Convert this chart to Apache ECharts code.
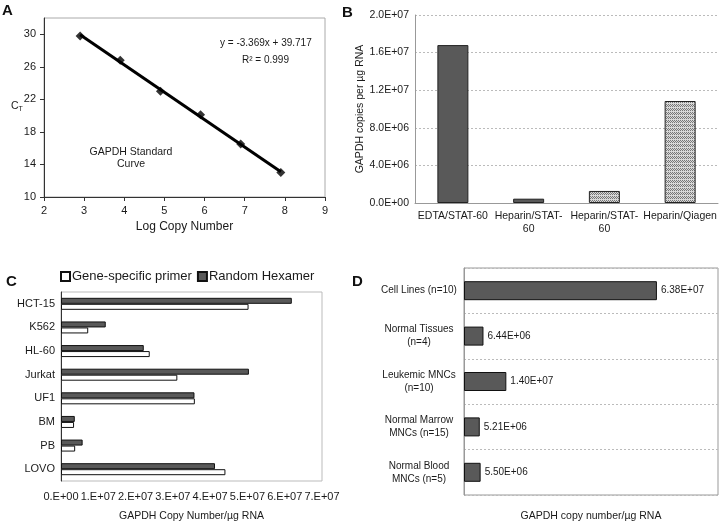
<!DOCTYPE html>
<html>
<head>
<meta charset="utf-8">
<script src="https://cdn.jsdelivr.net/npm/echarts@6/dist/echarts.min.js"></script>
<style>
  html, body { margin: 0; padding: 0; background: #fff; }
  #chart { width: 720px; height: 523px; }
</style>
</head>
<body>
<div id="chart"></div>
<script>
// panel A - standard curve
const logCopies = [2.9, 3.9, 4.9, 5.9, 6.9, 7.9]
const ctValues = [29.8, 26.8, 23.0, 20.1, 16.5, 13.0]
const trendX = [2.9, 7.9]
const trendY = [29.95, 13.1]

// panel B - collection / extraction method
const methodNames = ['EDTA/STAT-60', 'Heparin/STAT-\n60', 'Heparin/STAT-\n60', 'Heparin/Qiagen']
const methodCopies = [1.68e7, 4.6e5, 1.28e6, 1.085e7]

// panel C - primer comparison
const cellNames = ['HCT-15', 'K562', 'HL-60', 'Jurkat', 'UF1', 'BM', 'PB', 'LOVO']
const geneSpecific = [5.03e7, 0.73e7, 2.38e7, 3.12e7, 3.59e7, 0.35e7, 0.38e7, 4.41e7]
const randomHexamer = [6.19e7, 1.2e7, 2.22e7, 5.04e7, 3.58e7, 0.37e7, 0.58e7, 4.13e7]

// panel D - sample groups
const groupNames = ['Cell Lines (n=10)', 'Normal Tissues\n(n=4)', 'Leukemic MNCs\n(n=10)', 'Normal Marrow\nMNCs (n=15)', 'Normal Blood\nMNCs (n=5)']
const groupCopies = [6.38e7, 6.44e6, 1.40e7, 5.21e6, 5.50e6]

const FONT = 'Liberation Sans'
const TXT = '#1a1a1a'
const DARK = '#595959'

// "1.6E+07" style
function sci(v, d) {
  const s = Number(v).toExponential(d).toUpperCase()
  const [m, e] = s.split('E')
  const sign = e[0] === '-' ? '-' : '+'
  const n = Math.abs(parseInt(e, 10))
  return m + 'E' + sign + (n < 10 ? '0' + n : n)
}
// "1.E+07" style
function sciShort(v) {
  if (v === 0) return '0.E+00'
  const e = Math.floor(Math.log10(v) + 1e-9)
  const m = Math.round(v / Math.pow(10, e))
  return m + '.E+' + (e < 10 ? '0' + e : e)
}

// cross-hatch fill
const hatch = document.createElement('canvas')
hatch.width = 4; hatch.height = 4
const hc = hatch.getContext('2d')
hc.fillStyle = '#d8d8d8'; hc.fillRect(0, 0, 4, 4)
hc.fillStyle = '#777'
hc.fillRect(0, 0, 1, 1); hc.fillRect(2, 0, 1, 1); hc.fillRect(1, 1, 1, 1); hc.fillRect(3, 1, 1, 1)
hc.fillRect(0, 2, 1, 1); hc.fillRect(2, 2, 1, 1)
const hatchFill = { image: hatch, repeat: 'repeat' }

const lab = { color: TXT, fontFamily: FONT, fontSize: 11 }
const lab10 = { color: TXT, fontFamily: FONT, fontSize: 10.5 }

const chart = echarts.init(document.getElementById('chart'))
chart.setOption({
  backgroundColor: '#fff',
  animation: false,
  textStyle: { fontFamily: FONT },
  grid: [
    { left: 44, top: 18, width: 281, height: 179, show: true, borderColor: '#aaa', borderWidth: 1 },
    { left: 415, top: 15, width: 303, height: 188 },
    { left: 61, top: 292, width: 261, height: 192, show: true, borderColor: '#bbb', borderWidth: 1 },
    { left: 464, top: 268, width: 254, height: 231, show: true, borderColor: '#999', borderWidth: 1 }
  ],
  legend: {
    left: 60, top: 270, padding: 0, itemWidth: 9, itemHeight: 9, itemGap: 5, icon: 'rect',
    data: ['Gene-specific primer', 'Random Hexamer'],
    textStyle: { color: TXT, fontFamily: FONT, fontSize: 13, padding: [0, 0, 0, -3] }
  },
  xAxis: [
    {
      gridIndex: 0, type: 'value', min: 2, max: 9, interval: 1,
      name: 'Log Copy Number', nameLocation: 'middle', nameGap: 24,
      nameTextStyle: { color: TXT, fontFamily: FONT, fontSize: 12 },
      axisLine: { lineStyle: { color: '#333' } },
      axisTick: { length: 4, lineStyle: { color: '#333' } },
      axisLabel: Object.assign({ margin: 8 }, lab),
      splitLine: { show: false }
    },
    {
      gridIndex: 1, type: 'category', data: methodNames,
      axisLine: { lineStyle: { color: '#999' } },
      axisTick: { show: false },
      axisLabel: Object.assign({ margin: 7, lineHeight: 13, interval: 0 }, lab10)
    },
    {
      gridIndex: 2, type: 'value', min: 0, max: 7e7, interval: 1e7,
      name: 'GAPDH Copy Number/µg RNA', nameLocation: 'middle', nameGap: 30,
      nameTextStyle: { color: TXT, fontFamily: FONT, fontSize: 10.5 },
      axisLine: { lineStyle: { color: '#999' } },
      axisTick: { length: 3, lineStyle: { color: '#999' } },
      axisLabel: Object.assign({ margin: 10, formatter: sciShort }, lab),
      splitLine: { show: false }
    },
    {
      gridIndex: 3, type: 'value', min: 0, max: 8.4e7,
      name: 'GAPDH copy number/µg RNA', nameLocation: 'middle', nameGap: 16,
      nameTextStyle: { color: TXT, fontFamily: FONT, fontSize: 10.5 },
      axisLine: { show: false }, axisTick: { show: false },
      axisLabel: { show: false }, splitLine: { show: false }
    }
  ],
  yAxis: [
    {
      gridIndex: 0, type: 'value', min: 10, max: 32, interval: 4,
      axisLine: { show: true, lineStyle: { color: '#333' } },
      axisTick: { show: true, length: 4, lineStyle: { color: '#333' } },
      axisLabel: Object.assign({ margin: 8, showMaxLabel: false }, lab),
      splitLine: { show: false }
    },
    {
      gridIndex: 1, type: 'value', min: 0, max: 2e7, interval: 4e6,
      name: 'GAPDH copies per µg RNA', nameLocation: 'middle', nameGap: 45,
      nameTextStyle: { color: TXT, fontFamily: FONT, fontSize: 10.5 },
      axisLine: { show: true, lineStyle: { color: '#999' } },
      axisTick: { show: false },
      axisLabel: Object.assign({ margin: 6, formatter: v => sci(v, 1) }, lab10),
      splitLine: { lineStyle: { color: '#bbb', type: [2, 2] } }
    },
    {
      gridIndex: 2, type: 'category', data: cellNames, inverse: true,
      axisLine: { lineStyle: { color: '#333' } },
      axisTick: { length: 3, lineStyle: { color: '#333' } },
      axisLabel: Object.assign({ margin: 6 }, lab)
    },
    {
      gridIndex: 3, type: 'category', data: groupNames, inverse: true,
      axisLine: { lineStyle: { color: '#999' } },
      axisTick: { show: false },
      axisLabel: { margin: 45, align: 'center', lineHeight: 13, color: TXT, fontFamily: FONT, fontSize: 10 },
      splitLine: { show: true, lineStyle: { color: '#bbb', type: [2, 2] } }
    }
  ],
  series: [
    {
      type: 'line', xAxisIndex: 0, yAxisIndex: 0,
      data: trendX.map((x, i) => [x, trendY[i]]),
      showSymbol: false, lineStyle: { color: '#000', width: 3 }, z: 3
    },
    {
      type: 'scatter', xAxisIndex: 0, yAxisIndex: 0,
      data: logCopies.map((x, i) => [x, ctValues[i]]),
      symbol: 'diamond', symbolSize: 9, itemStyle: { color: '#000' }, z: 4
    },
    {
      type: 'bar', xAxisIndex: 1, yAxisIndex: 1, data: methodCopies, barWidth: 31,
      itemStyle: {
        color: p => p.dataIndex < 2 ? DARK : hatchFill,
        borderColor: '#222', borderWidth: 1
      }
    },
    {
      name: 'Random Hexamer', type: 'bar', xAxisIndex: 2, yAxisIndex: 2,
      data: randomHexamer, barWidth: 6, barGap: '0%',
      itemStyle: { color: DARK, borderColor: '#111', borderWidth: 1 }
    },
    {
      name: 'Gene-specific primer', type: 'bar', xAxisIndex: 2, yAxisIndex: 2,
      data: geneSpecific, barWidth: 6, barGap: '0%',
      itemStyle: { color: '#fff', borderColor: '#111', borderWidth: 1 }
    },
    {
      type: 'bar', xAxisIndex: 3, yAxisIndex: 3, data: groupCopies, barWidth: 19,
      itemStyle: { color: DARK, borderColor: '#111', borderWidth: 1 },
      label: {
        show: true, position: 'right', distance: 4,
        formatter: p => sci(p.value, 2), color: TXT, fontFamily: FONT, fontSize: 10
      }
    }
  ],
  graphic: [
    { type: 'text', left: 2, top: 3, style: { text: 'A', font: 'bold 15px ' + FONT, fill: '#111' } },
    { type: 'text', left: 342, top: 5, style: { text: 'B', font: 'bold 15px ' + FONT, fill: '#111' } },
    { type: 'text', left: 6, top: 274, style: { text: 'C', font: 'bold 15px ' + FONT, fill: '#111' } },
    { type: 'text', left: 352, top: 274, style: { text: 'D', font: 'bold 15px ' + FONT, fill: '#111' } },
    {
      type: 'text', left: 11, top: 101,
      style: {
        text: '{c|C}{t|T}', fill: TXT,
        rich: { c: { fontSize: 10.5, fontFamily: FONT }, t: { fontSize: 7, fontFamily: FONT, padding: [5, 0, 0, 0] } }
      }
    },
    { type: 'text', left: 220, top: 38, style: { text: 'y = -3.369x + 39.717', font: '10px ' + FONT, fill: TXT } },
    { type: 'text', left: 242, top: 55, style: { text: 'R² = 0.999', font: '10px ' + FONT, fill: TXT } },
    { type: 'text', x: 131, y: 152, style: { text: 'GAPDH Standard', font: '10.5px ' + FONT, fill: TXT, align: 'center', verticalAlign: 'middle' } },
    { type: 'text', x: 131, y: 164, style: { text: 'Curve', font: '10.5px ' + FONT, fill: TXT, align: 'center', verticalAlign: 'middle' } }
  ]
})
</script>
</body>
</html>
